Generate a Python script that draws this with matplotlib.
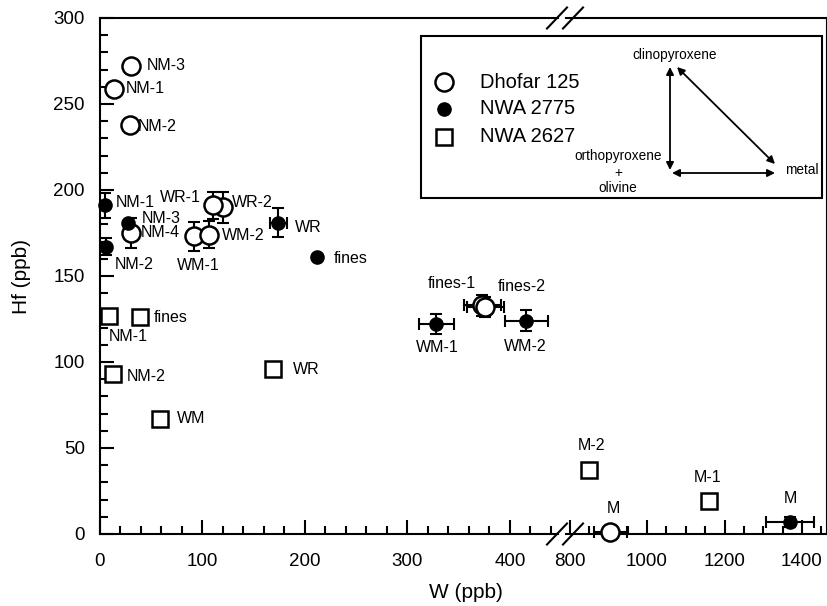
import matplotlib
matplotlib.use("Agg")
import matplotlib.pyplot as plt
from matplotlib.lines import Line2D
from matplotlib.patches import Rectangle, FancyArrowPatch
from matplotlib.ticker import MultipleLocator

plt.rcParams['font.family'] = ['Liberation Sans', 'DejaVu Sans']

# Dhofar 125 (open circles)
dh_labels = ["NM-3", "NM-1", "NM-2", "NM-4", "WR-2", "WR-1", "WM-1", "WM-2", "fines-1", "fines-2", "M"]
dh_w = [30, 14, 29, 30, 120, 110, 92, 106, 373, 376, 905]
dh_hf = [272, 259, 238, 175, 190, 191, 173, 174, 133, 132, 1]
dh_werr = [0, 0, 0, 0, 0, 0, 0, 0, 18, 18, 43]
dh_hferr = [0, 0, 0, 9, 9, 8, 8.5, 8, 6, 6, 0]

# NWA 2775 (filled circles)
n75_labels = ["NM-1", "NM-3", "NM-2", "WR", "fines", "WM-1", "WM-2", "M"]
n75_w = [5, 27, 5.5, 174, 212, 328, 416, 1369]
n75_hf = [191, 181, 167, 181, 161, 122, 124, 7]
n75_werr = [0, 0, 0, 8, 0, 17, 21, 62]
n75_hferr = [7.5, 0, 5, 8.5, 0, 6, 6, 3]

# NWA 2627 (open squares)
n27_labels = ["NM-1", "fines", "NM-2", "WM", "WR", "M-2", "M-1"]
n27_w = [9, 39, 13, 58.5, 168.5, 851, 1161]
n27_hf = [127, 126, 93, 67, 96, 37, 19]

legend_names = ["Dhofar 125", "NWA 2775", "NWA 2627"]

# label offsets in pixels (dx, dy, ha)
dh_off = [(16, 1, "left"), (11, 0, "left"), (8, -2, "left"), (10, 0, "left"),
          (9, 5, "left"), (-12, 8, "right"), (4, -29, "center"), (13, -1, "left"),
          (-31, 22, "center"), (36, 20, "center"), (3, 24, "center")]
n75_off = [(11, 3, "left"), (14, 4, "left"), (9, -18, "left"), (17, -5, "left"),
           (16, -1, "left"), (1, -23, "center"), (-1, -26, "center"), (0, 23, "center")]
n27_off = [(0, -21, "left"), (14, 0, "left"), (13, -2, "left"), (17, 0, "left"),
           (20, -1, "left"), (2, 25, "center"), (-2, 24, "center")]

W_PX, H_PX = 828, 606
fig = plt.figure(figsize=(W_PX / 100, H_PX / 100), dpi=100)


def fx(x):
    return x / W_PX


def fy(y):
    return 1 - y / H_PX


bottom, top = 534, 18
axL = fig.add_axes([fx(100), fy(bottom), (558 - 100) / W_PX, (bottom - top) / H_PX])
axR = fig.add_axes([fx(566), fy(bottom), (827 - 566) / W_PX, (bottom - top) / H_PX], sharey=axL)

axL.set_xlim(0, 458 / 1.025)
axR.set_xlim(800 - 3.5 / 0.3875, 800 + 257.5 / 0.3875)
axL.set_ylim(0, 300)

for ax in (axL, axR):
    for s in ax.spines.values():
        s.set_linewidth(1.5)
    ax.tick_params(which="both", direction="in", width=1.5, labelsize=13.5, top=False, right=False)
    ax.tick_params(which="major", length=10)
    ax.tick_params(which="minor", length=5.5)
    ax.tick_params(axis="x", pad=14)
    ax.tick_params(axis="y", pad=11)
axL.spines["right"].set_visible(False)
axR.spines["left"].set_visible(False)
axR.tick_params(axis="y", which="both", left=False, labelleft=False)

axL.xaxis.set_major_locator(MultipleLocator(100))
axL.xaxis.set_minor_locator(MultipleLocator(20))
axR.xaxis.set_major_locator(MultipleLocator(200))
axR.xaxis.set_minor_locator(MultipleLocator(50))
axL.yaxis.set_major_locator(MultipleLocator(50))
axL.yaxis.set_minor_locator(MultipleLocator(10))


def draw(w, hf, werr, hferr, labels, offs, mk):
    for ax in (axL, axR):
        lo, hi = ax.get_xlim()
        for i in range(len(w)):
            if not (lo <= w[i] <= hi):
                continue
            xe = werr[i] if werr and werr[i] else None
            ye = hferr[i] if hferr and hferr[i] else None
            if xe is None and ye is None:
                continue
            eb = ax.errorbar(w[i], hf[i], xerr=xe, yerr=ye, fmt="none", ecolor="k",
                             elinewidth=1.5, capsize=4.5, capthick=1.5, zorder=2)
            for art in eb.get_children():
                art.set_clip_on(False)
        inside = [i for i in range(len(w)) if lo <= w[i] <= hi]
        ax.plot([w[i] for i in inside], [hf[i] for i in inside], linestyle="none",
                zorder=3, clip_on=False, **mk)
    for i, lab in enumerate(labels):
        ax = axL if w[i] < 500 else axR
        dx, dy, ha = offs[i]
        ax.annotate(lab, (w[i], hf[i]), xytext=(dx, dy), textcoords="offset pixels",
                    ha=ha, va="center", fontsize=11.5, zorder=5)


mk_dh = dict(marker="o", markersize=13, markerfacecolor="white", markeredgecolor="k", markeredgewidth=1.8)
mk_75 = dict(marker="o", markersize=9.5, markerfacecolor="k", markeredgecolor="k")
mk_27 = dict(marker="s", markersize=12, markerfacecolor="white", markeredgecolor="k", markeredgewidth=1.8)

draw(n27_w, n27_hf, None, None, n27_labels, n27_off, mk_27)
draw(dh_w, dh_hf, dh_werr, dh_hferr, dh_labels, dh_off, mk_dh)
draw(n75_w, n75_hf, n75_werr, n75_hferr, n75_labels, n75_off, mk_75)

# axis break marks
for cx in (557, 573):
    for cy in (top, bottom):
        fig.add_artist(Line2D([fx(cx - 10), fx(cx + 10)], [fy(cy + 10.5), fy(cy - 10.5)],
                              transform=fig.transFigure, color="k", lw=1.5))

fig.text(fx(466), fy(592), "W (ppb)", ha="center", va="center", fontsize=15)
fig.text(fx(22), fy(276), "Hf (ppb)", ha="center", va="center", rotation=90, fontsize=15)

# legend box
fig.add_artist(Rectangle((fx(421), fy(198)), (822 - 421) / W_PX, (198 - 36) / H_PX,
                         transform=fig.transFigure, fill=False, ec="k", lw=1.5))
for (mk, ry, name) in zip([mk_dh, mk_75, mk_27], [82, 109, 137], legend_names):
    fig.add_artist(Line2D([fx(444)], [fy(ry)], transform=fig.transFigure, linestyle="none", **mk))
    fig.text(fx(480), fy(ry), name, ha="left", va="center", fontsize=14.5)

# triangle diagram
for a, b in [((670, 67), (670, 170)), ((677, 67), (775, 164)), ((672, 173), (775, 173))]:
    fig.add_artist(FancyArrowPatch((fx(a[0]), fy(a[1])), (fx(b[0]), fy(b[1])),
                                   transform=fig.transFigure, arrowstyle="<|-|>",
                                   mutation_scale=11, lw=1.3, color="k",
                                   shrinkA=0, shrinkB=0))
fig.text(fx(675), fy(55), "clinopyroxene", ha="center", va="center", fontsize=9.8)
fig.text(fx(618), fy(156), "orthopyroxene", ha="center", va="center", fontsize=9.8)
fig.text(fx(618), fy(173), "+", ha="center", va="center", fontsize=9.8)
fig.text(fx(618), fy(188), "olivine", ha="center", va="center", fontsize=9.8)
fig.text(fx(802), fy(170), "metal", ha="center", va="center", fontsize=9.8)

fig.savefig("out.png", dpi=100)
